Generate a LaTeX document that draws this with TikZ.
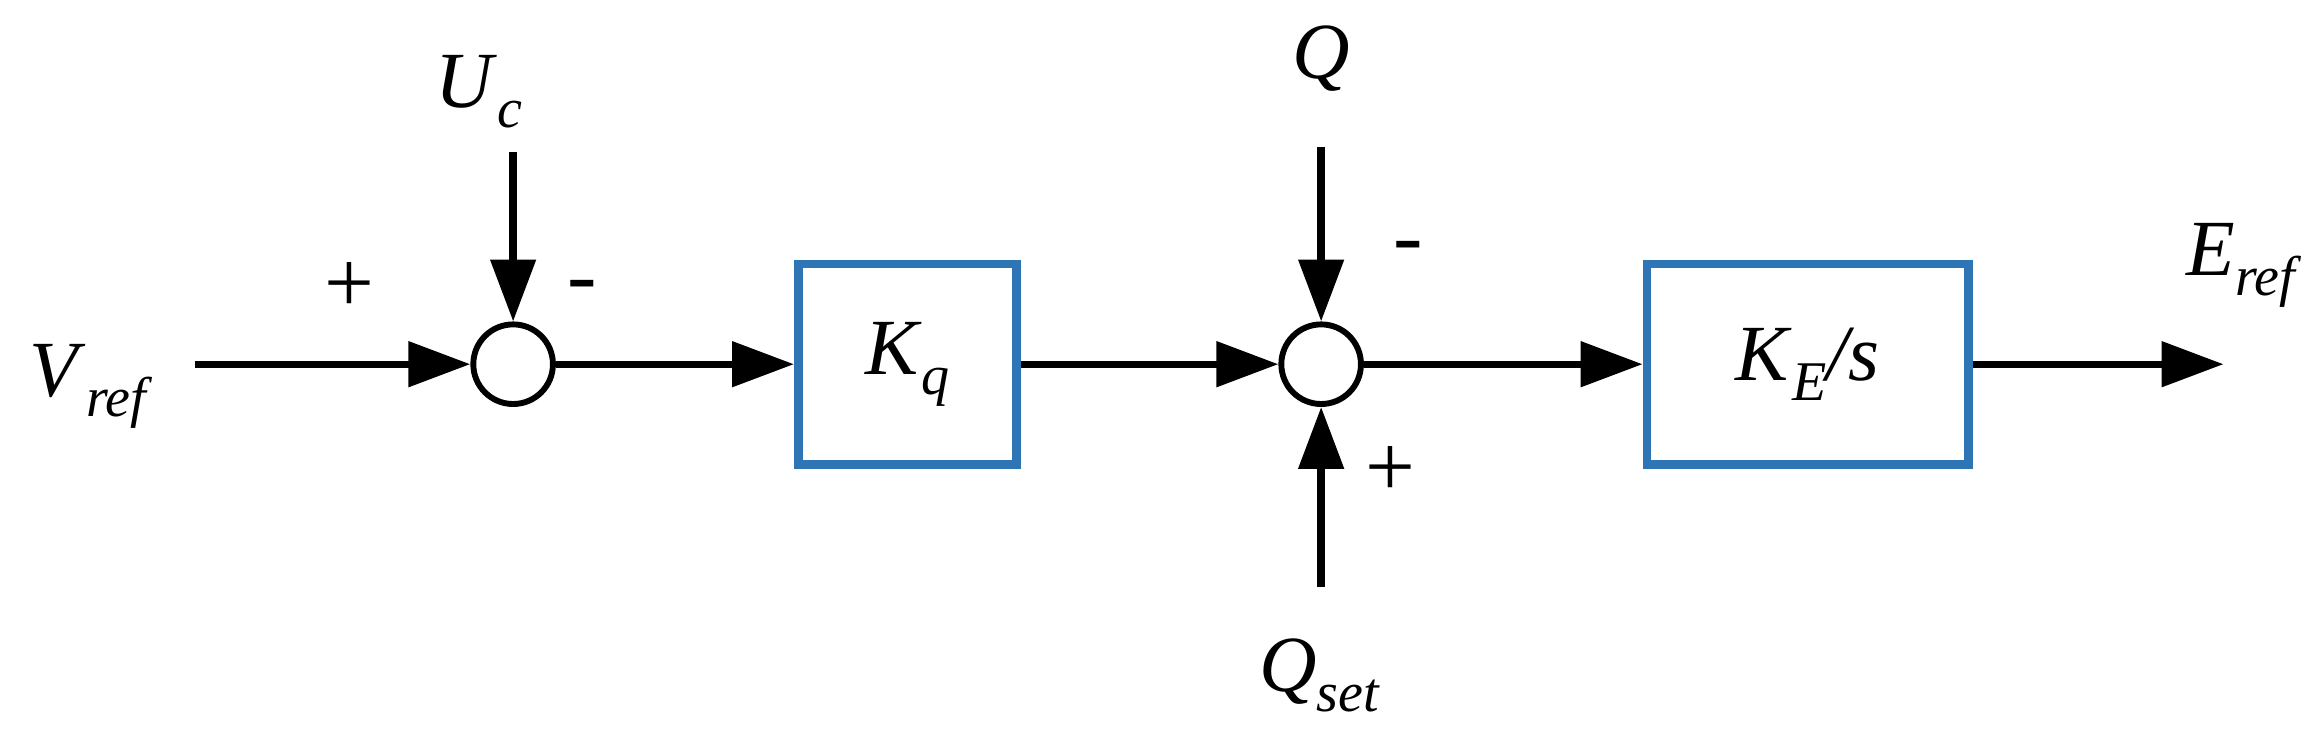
\documentclass[tikz,border=0pt]{standalone}
\usepackage{fontspec}
\setmainfont{Liberation Serif}
\usetikzlibrary{arrows.meta}
\definecolor{bb}{RGB}{46,117,182}
\newcommand{\vsub}[2]{\textit{#1}\raisebox{-0.25em}{\fontsize{38}{44}\selectfont\textit{#2}}}
\begin{document}
\begin{tikzpicture}[x=1pt,y=-1pt,
  blk/.style={draw=bb,line width=6pt,minimum width=148pt,minimum height=136pt,inner sep=0pt},
  sum/.style={draw,circle,line width=4pt,minimum size=54pt,inner sep=0pt},
  ar/.style={line width=5pt,-{Triangle[length=42pt,width=30pt]}},
  lbl/.style={font=\fontsize{54}{60}\selectfont,inner sep=0pt},
  sgn/.style={font=\fontsize{60}{66}\selectfont,inner sep=0pt}]
\useasboundingbox (0,0) rectangle (1568,500);
\node[lbl] (vref) at (62,262) {\vsub{V}{ref}};
\node[sum] (s1) at (348,247) {};
\node[lbl] (uc) at (325,62) {\vsub{U}{c}};
\node[blk,lbl] (kq) at (615.5,247) {\vsub{K}{q}};
\node[sum] (s2) at (896,247) {};
\node[lbl] (q) at (896,40) {\textit{Q}};
\node[lbl] (qs) at (895,458) {\vsub{Q}{set}};
\node[blk,lbl,minimum width=218pt] (ke) at (1226,247) {\textit{K}\raisebox{-0.25em}{\fontsize{38}{44}\selectfont\textit{E}}\textit{/s}};
\node[lbl] (eref) at (1522,180) {\vsub{E}{ref}};
\coordinate (a1) at (132,247);
\coordinate (a2) at (348,103);
\coordinate (a3) at (896,100);
\coordinate (a4) at (896,398);
\coordinate (a5) at (1508,247);
\draw[ar] (a1) -- (s1.west);
\draw[ar] (a2) -- (s1.north);
\draw[ar] (s1.east) -- (kq.west);
\draw[ar] (kq.east) -- (s2.west);
\draw[ar] (a3) -- (s2.north);
\draw[ar] (a4) -- (s2.south);
\draw[ar] (s2.east) -- (ke.west);
\draw[ar] (ke.east) -- (a5);
\node[sgn] (p1) at (237,195) {+};
\node[sgn] (m1) at (395,198) {-};
\node[sgn] (m2) at (955,172) {-};
\node[sgn] (p2) at (943,320) {+};
\end{tikzpicture}
\end{document}
